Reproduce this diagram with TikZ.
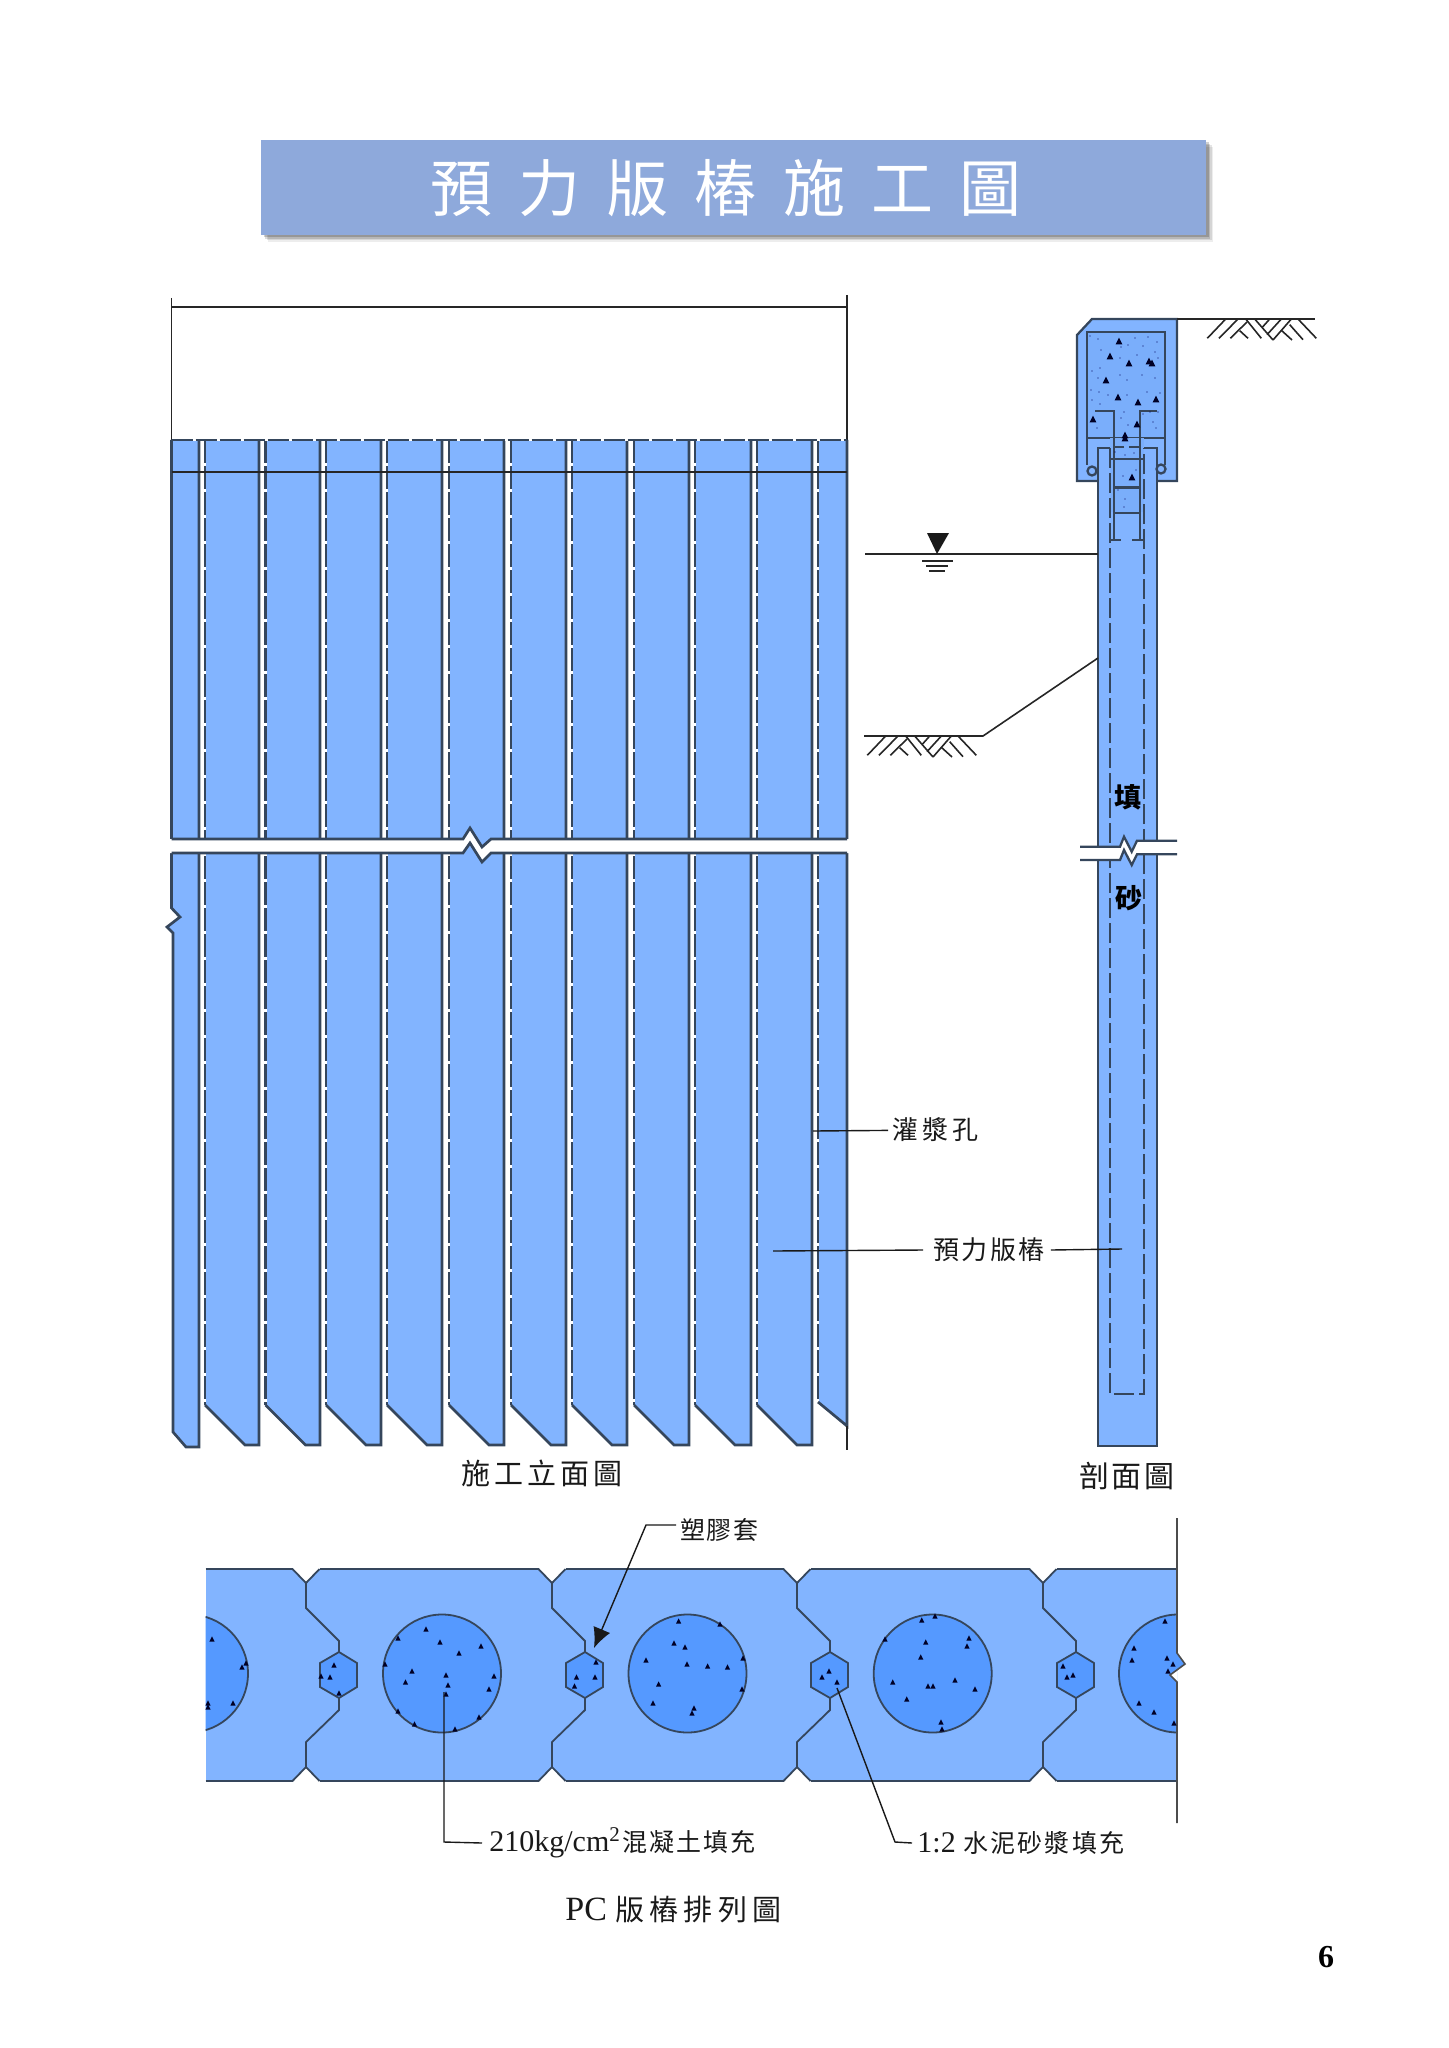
\documentclass[tikz,border=0pt]{standalone}
\usepackage{fontspec}
\setmainfont{Liberation Serif}
\newfontfamily\cjk{Noto Sans CJK TC}
\usetikzlibrary{arrows.meta}
\definecolor{pileblue}{HTML}{82B4FF}
\definecolor{fillblue}{HTML}{7AAEFB}
\definecolor{coreblue}{HTML}{5599FF}
\definecolor{edgedark}{HTML}{35465C}
\definecolor{titleblue}{HTML}{8EA9DB}
\newcommand\cjkat[2]{\fontsize{#1}{#1}\selectfont\cjk\addfontfeature{LetterSpace=#2}}
\newcommand\stones[2]{\foreach \x/\y in {#2} {\fill[stone] (\x-#1,\y+#1) -- (\x+#1,\y+#1) -- (\x,\y-#1) -- cycle;}}
\newcommand\soilhatch[2]{\begin{scope}[shift={(#1,#2)}]
  \foreach \ax/\ay/\bx/\by in {21.7/0/3.3/19.3,34/0/15/19.3,43/3/26.3/19.3,35.7/11.7/44/19.3,41.7/0/57.3/19.3,
    50.7/0/69/21,65.7/0/58.3/8.3,77.3/0/63/15.7,87.3/0/69/21,77.3/11.3/88/21,85.7/5.7/99/20.7,94/0/112.3/19.3}
    {\draw[soil] (\ax,\ay) -- (\bx,\by);}
\end{scope}}
\tikzset{>=Stealth,
  pileline/.style={draw=edgedark,line width=1.35pt},
  holeline/.style={draw=edgedark,line width=1.4pt,dash pattern=on 11.5pt off 1.5pt},
  secline/.style={draw=edgedark,line width=1.15pt},
  secdash/.style={draw=edgedark,line width=1.25pt,dash pattern=on 10pt off 2.5pt},
  thinline/.style={draw=black!85,line width=0.8pt},
  leader/.style={draw=black!90,line width=0.7pt},
  soil/.style={draw=black!85,line width=0.8pt},
  pcline/.style={draw=edgedark,line width=0.9pt},
  stone/.style={fill=black!85!blue},
  lbl/.style={inner sep=2pt,text=black!90}}

\begin{document}
\begin{tikzpicture}[x=0.5pt,y=-0.5pt]
\useasboundingbox (0,0) rectangle (1448,2048);

% Title band
\foreach \off/\op in {7/.07,5.5/.1,4/.14,2.5/.18} {
  \fill[black,opacity=\op] (261+\off,140+\off) rectangle (1206+\off,235+\off);
}
\node[fill=titleblue,minimum width=472.5pt,minimum height=47.5pt,inner sep=0pt] (titleband) at (733.5,187.5) {};
\node[anchor=west,inner sep=0pt,text=white,font=\cjkat{31}{42}] (titletext) at (430.5,188) {預力版樁施工圖};

% Elevation: frame
\draw[thinline] (171.5,298) -- (171.5,440);
\draw[thinline] (847,295) -- (847,440);
\draw[thinline,line width=1pt] (171.5,307) -- (847,307);

% Elevation: first and last piles
\fill[pileblue] (171.5,440) -- (199,440) -- (199,1447) -- (186,1447) -- (173,1432) -- (173,933) -- (167,927) -- (180,917) -- (171.5,908) -- cycle;
\draw[pileline] (199,440) -- (199,1447) -- (186,1447) -- (173,1432) -- (173,933) -- (167,927) -- (180,917) -- (171.5,908) -- (171.5,440);
\fill[pileblue] (818,440) -- (847,440) -- (847,1426) -- (818,1402) -- cycle;
\draw[white,line width=1.4pt] (818,440) -- (818,1402);
\draw[holeline] (818,440) -- (818,1402);
\draw[pileline] (818,1402) -- (847,1426) -- (847,440);
\draw[thinline] (847,1426) -- (847,1450);

% Elevation: full piles
\foreach \xl/\xr in {205/259,265.5/320,326/381,387/442,449/504,511/566,572/627,634/689,695/751,757/812} {
  \fill[pileblue] (\xl,440) -- (\xr,440) -- (\xr,1445) -- (\xl+40,1445) -- (\xl,1405) -- cycle;
  \draw[white,line width=1.4pt] (\xl,440) -- (\xl,1405);
  \draw[holeline] (\xl,440) -- (\xl,1405);
  \draw[pileline] (\xl,1405) -- (\xl+40,1445) -- (\xr,1445) -- (\xr,440);
}
\draw[white,line width=1.3pt] (171.5,440) -- (847,440);
\draw[holeline,dash pattern=on 10.5pt off 1.5pt] (171.5,440) -- (847,440);
\draw[thinline,line width=1pt] (171.5,472) -- (847,472);

% Elevation: break
\fill[white] (165,839) -- (463,839) -- (470,828) -- (482,847) -- (491,839) -- (855,839) -- (855,853) -- (491,853) -- (482,862) -- (470,843) -- (463,853) -- (165,853) -- cycle;
\draw[pileline] (171.5,839) -- (463,839) -- (470,828) -- (482,847) -- (491,839) -- (847,839);
\draw[pileline] (171.5,853) -- (463,853) -- (470,843) -- (482,862) -- (491,853) -- (847,853);

% Section: cap
\fill[pileblue] (1092,319) -- (1177,319) -- (1177,481) -- (1077,481) -- (1077,335) -- cycle;
\draw[secline] (1098,481) -- (1077,481) -- (1077,335) -- (1092,319) -- (1177,319) -- (1177,481) -- (1157,481);
\fill[fillblue] (1087,332) rectangle (1165,438);
\draw[secline] (1087,465) -- (1087,332) -- (1165,332) -- (1165,465);
\draw[secline] (1087,438) -- (1165,438);

% Section: pile
\fill[pileblue] (1098,448) rectangle (1157,1446);
\fill[fillblue] (1110,438) rectangle (1144,512);
\draw[secline] (1110,448) -- (1098,448) -- (1098,1446) -- (1157,1446) -- (1157,448) -- (1144,448);
\draw[secline,fill=pileblue] (1092,471) circle (4.5);
\draw[secline,fill=pileblue] (1161,469) circle (4.5);
\draw[secdash] (1110,448) -- (1110,1394) -- (1144,1394) -- (1144,448);
\draw[secdash,dash pattern=on 5pt off 2.5pt] (1114,447) -- (1140,447);

% Section: bars
\draw[secline] (1095,411) -- (1114,411) -- (1114,540);
\draw[secline] (1157,411) -- (1140,411) -- (1140,540);
\draw[secline] (1109,459) -- (1144,459);
\draw[secline] (1114,487.5) -- (1140,487.5);
\draw[secline] (1114,513) -- (1140,513);
\draw[secline] (1109,540) -- (1121,540);
\draw[secline] (1132,540) -- (1144,540);

% Section: concrete
\stones{3.3}{1119/341,1110/356,1129/363,1149/361,1152/363,1106/380,1118/397,1138/402,1156/399,1093/419,1137/424,1125/438,1125/435,1132/477}
\foreach \x/\y in {1090/336,1098/339,1135/338,1148/337,1157/342,1101/350,1121/347,1128/345,1143/346,1155/352,
  1092/371,1100/368,1120/358,1137/355,1158/358,1091/390,1098/378,1120/375,1127/380,1142/375,1155/378,
  1099/392,1108/395,1127/395,1147/392,1160/393,1092/400,1100/404,1124/412,1143/414,1150/412,1158/412,
  1097/428,1121/418,1128/425,1153/422,1156/428,1115/452,1125/455,1134/453,1123/476,1136/470,1125/499,1124/507,1118/490} {
  \fill[black!65!blue] (\x,\y) circle (0.7);
}

% Section: ground and water
\draw[thinline] (1177,319) -- (1315,319);
\soilhatch{1204}{319}
\draw[thinline] (865,554) -- (1098,554);
\fill[black!90] (927,533) -- (949,533) -- (937,554) -- cycle;
\draw[thinline] (922,560.7) -- (953,560.7);
\draw[thinline] (926,565.7) -- (948,565.7);
\draw[thinline] (929,571) -- (945,571);
\draw[thinline] (864,736) -- (983,736) -- (1098,658);
\soilhatch{864}{736}

% Section: break
\fill[white] (1080,846.7) -- (1120,846.7) -- (1124,836.7) -- (1131.7,851.7) -- (1137,840.7) -- (1177,840.7) -- (1177,854.3) -- (1137,854.3) -- (1131.7,865) -- (1124,850) -- (1120,860) -- (1080,860) -- cycle;
\draw[secline] (1080,846.7) -- (1120,846.7) -- (1124,836.7) -- (1131.7,851.7) -- (1137,840.7) -- (1177,840.7);
\draw[secline] (1080,860) -- (1120,860) -- (1124,850) -- (1131.7,865) -- (1137,854.3) -- (1177,854.3);
\node[inner sep=0pt,font=\cjkat{13.5}{0}\bfseries] (sectop) at (1128,797) {填};
\node[inner sep=0pt,font=\cjkat{13.5}{0}\bfseries] (secbot) at (1129,898) {砂};

% Elevation and section labels
\node[lbl,font=\cjkat{14.5}{14}] (elevname) at (542,1473) {施工立面圖};
\node[lbl,font=\cjkat{15}{7}] (secname) at (1127,1476) {剖面圖};
\node[lbl,anchor=west,font=\cjkat{13}{16}] (holelbl) at (888,1130) {灌漿孔};
\node[lbl,anchor=west,font=\cjkat{13}{9}] (pilelbl) at (929,1250) {預力版樁};
\coordinate (holeend) at (813,1131);
\coordinate (pilefront) at (773,1251);
\coordinate (pileside) at (1122,1249);
\draw[leader] (holelbl) -- (holeend);
\draw[leader] (pilelbl.west) ++(-6,0) -- (pilefront);
\draw[leader] (pilelbl.east) ++(2,0) -- (pileside);

% PC row: fill
\begin{scope}
\clip (205.5,1569) rectangle (1177,1781);
\fill[pileblue] (205.5,1569) rectangle (1177,1781);
\foreach \cx in {189,442,687.5,932.7,1178} {
  \draw[pcline,fill=coreblue] (\cx,1673.5) circle (59);
}
\end{scope}

% PC row: joints
\foreach \jx in {306,552,797,1043} {
  \fill[white] (\jx-13.5,1568) -- (\jx+13.5,1568) -- (\jx,1583) -- cycle;
  \fill[white] (\jx-13.5,1782) -- (\jx+13.5,1782) -- (\jx,1767) -- cycle;
  \draw[pcline] (\jx-13.5,1569) -- (\jx,1583) -- (\jx+13.5,1569);
  \draw[pcline] (\jx-13.5,1781) -- (\jx,1767) -- (\jx+13.5,1781);
  \draw[pcline] (\jx,1583) -- (\jx,1608) -- (\jx+33,1641) -- (\jx+33,1652);
  \draw[pcline] (\jx,1767) -- (\jx,1742) -- (\jx+33,1710) -- (\jx+33,1698);
  \draw[pcline,fill=coreblue] (\jx+33,1652) -- (\jx+51,1663) -- (\jx+51,1687) -- (\jx+33,1698) -- (\jx+14,1687) -- (\jx+14,1663) -- cycle;
}
\foreach \xa/\xb in {205.5/292.5,319.5/538.5,565.5/783.5,810.5/1029.5,1056.5/1177} {
  \draw[pcline] (\xa,1569) -- (\xb,1569);
  \draw[pcline] (\xa,1781) -- (\xb,1781);
}

% PC row: end
\fill[white] (1177,1670) -- (1170,1675) -- (1177,1682) -- cycle;
\fill[coreblue] (1177,1653) -- (1185,1664) -- (1177,1670) -- cycle;
\draw[thinline,draw=black!70] (1177,1518) -- (1177,1653) -- (1185,1664) -- (1170,1675) -- (1177,1682) -- (1177,1823);

% PC row: stones
\stones{2.6}{212/1639,242/1667,246/1663,233/1703,208/1703,208/1707,
  426/1629,440/1642,459/1653,481/1646,398/1638,412/1671,405.5/1682,446/1675,448/1685,446/1694,494/1676,489/1689,455/1729,398/1711,414.5/1724,479/1717,385/1664,
  678.6/1621,720/1624,674/1643,685/1647,646/1660,687/1664,707.6/1666,727.5/1667,658.6/1684,653/1703,694/1708,692/1713,742/1689,743/1658,
  921.7/1620,935/1616,925.7/1642,969/1638,967/1646,920.7/1657,892.7/1682,928/1686,933/1686,955/1680,975/1689,906.7/1699,941/1722,942/1729,885/1639,
  1165/1621,1134/1648,1132/1660,1167/1658,1173/1664,1168/1671,1139/1703,1154/1712,1174/1723,
  334/1665,321/1676,330/1677,339/1693,596/1662,576.5/1677,595/1677,574.5/1686,829/1671,822/1677,837/1682,1063/1666,1067/1677,1073/1675}

% PC row: labels
\node[lbl,anchor=west,font=\cjkat{12.5}{6}] (sleevelbl) at (676,1530) {塑膠套};
\coordinate (sleeveknee) at (646,1525);
\coordinate (sleevetip) at (594,1648);
\draw[leader,-{Latex[length=10pt,width=9pt]}] (sleevelbl.west |- sleeveknee) -- (sleeveknee) -- (sleevetip);

\node[lbl,anchor=west,font=\fontsize{15}{18}\selectfont,inner sep=3.5pt] (concretelbl) at (482,1843)
  {210kg/cm\textsuperscript{2}\hspace{0.6pt}{\cjkat{12.5}{8}混凝土填充}};
\coordinate (concreteknee) at (444,1842);
\coordinate (concreteend) at (444,1692);
\draw[leader] (concretelbl.west) -- (concreteknee) -- (concreteend);

\node[lbl,anchor=west,font=\fontsize{15}{18}\selectfont,inner sep=2.5pt] (mortarlbl) at (912,1843)
  {1:2 {\cjkat{12.5}{9}水泥砂漿填充}};
\coordinate (mortarknee) at (895,1842);
\coordinate (mortarend) at (837,1688);
\draw[leader] (mortarlbl.west) -- (mortarknee) -- (mortarend);

\node[lbl,anchor=west,inner sep=0pt,font=\fontsize{17}{20}\selectfont] (rowname) at (565,1910)
  {PC {\cjkat{14.5}{18}版樁排列圖}};
\node[inner sep=0pt,font=\fontsize{16}{18}\selectfont\bfseries] (pageno) at (1326,1957) {6};
\end{tikzpicture}
\end{document}
